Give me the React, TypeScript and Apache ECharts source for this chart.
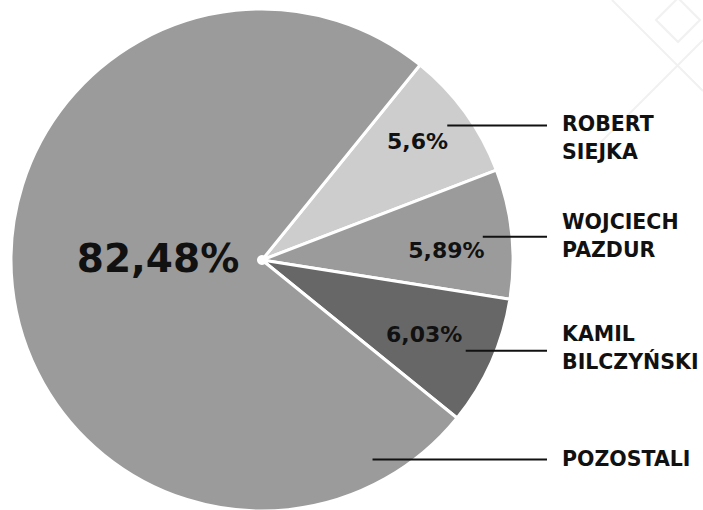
import React, { useEffect, useRef } from "react";
import * as echarts from "echarts";

// Data
const NAMES = ["ROBERT\nSIEJKA", "WOJCIECH\nPAZDUR", "KAMIL\nBILCZYŃSKI", "POZOSTALI"];
const SHARES = [5.6, 5.89, 6.03, 82.48];
const COLORS = ["#cdcdcd", "#9b9b9b", "#676767", "#9b9b9b"];

// Layout
const CX = 262;
const CY = 260;
const R = 251;
const LINE_R = [229, 222, 223, 228];
const LINE_END_X = 547;
const LABEL_X = 562;
const LABEL_SHIFT = [13, -1, -3, 0];
const PCT_NUDGE = [
  [3, -8],
  [-3, 10],
  [-10, -2],
];
const POZ_LINE_ANGLE = -61;
const FONT = "'DejaVu Sans', sans-serif";

const fmtPct = (v: number) => String(v).replace(".", ",") + "%";

export default function App() {
  const ref = useRef<HTMLDivElement>(null);
  useEffect(() => {
    document.body.style.margin = "0";
    if (!ref.current) return;
    const chart = echarts.init(ref.current, undefined, { renderer: "svg" });
    const data = SHARES.map((v, i) => ({ name: NAMES[i], value: v }));
    const common = {
      type: "pie",
      center: [CX, CY],
      startAngle: 51,
      minAngle: 30,
      clockwise: true,
      silent: true,
      avoidLabelOverlap: false,
      emphasis: { disabled: true },
    };
    chart.setOption({
      animation: false,
      backgroundColor: "#ffffff",
      graphic: [
        { type: "line", shape: { x1: 612, y1: 0, x2: 703, y2: 91 }, style: { stroke: "#f1f1f1", lineWidth: 2 }, z: -10 },
        { type: "line", shape: { x1: 703, y1: 40, x2: 585, y2: 158 }, style: { stroke: "#f1f1f1", lineWidth: 2 }, z: -10 },
        { type: "polygon", shape: { points: [[678, -2], [700, 20], [678, 42], [656, 20]] }, style: { stroke: "#f1f1f1", fill: "none", lineWidth: 2 }, z: -10 },
        { type: "circle", shape: { cx: CX, cy: CY, r: 5 }, style: { fill: "#ffffff" }, z: 100 },
      ],
      series: [
        {
          ...common,
          z: 2,
          radius: [0, R],
          data: data.map((d, i) => ({ ...d, itemStyle: { color: COLORS[i] } })),
          itemStyle: { borderColor: "#ffffff", borderWidth: 3 },
          label: { show: false },
          labelLine: { show: false },
        },
        {
          ...common,
          z: 4,
          radius: [120, R],
          data: data.map((d, i) => (i === 3 ? { ...d, label: { fontSize: 39 } } : d)),
          itemStyle: { color: "transparent", borderWidth: 0 },
          label: {
            show: true,
            position: "inside",
            formatter: (p: any) => fmtPct(p.value),
            color: "#111111",
            fontFamily: FONT,
            fontWeight: "bold",
            fontSize: 22,
          },
          labelLine: { show: false },
          labelLayout: (p: any) =>
            p.dataIndex === 3
              ? { x: CX - 104, y: CY - 2, align: "center", verticalAlign: "middle" }
              : { dx: PCT_NUDGE[p.dataIndex][0], dy: PCT_NUDGE[p.dataIndex][1] },
        },
        {
          ...common,
          z: 5,
          radius: [0, R],
          data,
          itemStyle: { color: "transparent", borderWidth: 0 },
          label: {
            show: true,
            position: "outside",
            formatter: "{b}",
            color: "#111111",
            fontFamily: FONT,
            fontWeight: "bold",
            fontSize: 20.5,
            lineHeight: 28,
          },
          labelLine: { show: true, length: 5, length2: 20, lineStyle: { color: "#111111", width: 2 } },
          labelLayout: (p: any) => {
            const i = p.dataIndex;
            let sx: number, sy: number;
            if (i === 3) {
              const a = (POZ_LINE_ANGLE * Math.PI) / 180;
              sx = CX + LINE_R[i] * Math.cos(a);
              sy = CY - LINE_R[i] * Math.sin(a);
            } else {
              const p0 = p.labelLinePoints[0];
              const k = LINE_R[i] / Math.hypot(p0[0] - CX, p0[1] - CY);
              sx = CX + (p0[0] - CX) * k;
              sy = CY + (p0[1] - CY) * k;
            }
            return {
              x: LABEL_X,
              y: sy + LABEL_SHIFT[i],
              align: "left",
              verticalAlign: "middle",
              labelLinePoints: [
                [sx, sy],
                [LINE_END_X, sy],
              ],
            };
          },
        },
      ],
    });
    return () => chart.dispose();
  }, []);
  return <div ref={ref} style={{ width: 703, height: 510 }} />;
}
